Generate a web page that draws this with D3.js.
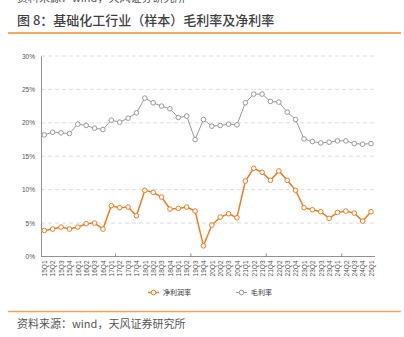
<!DOCTYPE html>
<html><head><meta charset="utf-8">
<script src="https://cdn.jsdelivr.net/npm/d3@7"></script>
<style>
body{margin:0;background:#fff;}
svg{display:block;font-family:"Noto Sans CJK SC","Noto Sans",sans-serif;}
</style></head>
<body><svg id="c" width="404" height="337"></svg>
<script>
const categories = ["15Q1","15Q2","15Q3","15Q4","16Q1","16Q2","16Q3","16Q4","17Q1","17Q2","17Q3","17Q4","18Q1","18Q2","18Q3","18Q4","19Q1","19Q2","19Q3","19Q4","20Q1","20Q2","20Q3","20Q4","21Q1","21Q2","21Q3","21Q4","22Q2","22Q3","22Q4","23Q1","23Q2","23Q3","23Q4","24Q1","24Q2","24Q3","24Q4","25Q1"];
const netMargin = [3.9,4.1,4.4,4.1,4.4,4.9,5.0,4.1,7.6,7.3,7.4,6.1,9.9,9.6,8.9,7.1,7.2,7.4,6.8,1.6,4.7,5.9,6.4,5.8,11.3,13.2,12.6,11.4,12.8,11.4,9.9,7.3,7.0,6.7,5.7,6.6,6.8,6.5,5.3,6.7];
const grossMargin = [18.2,18.6,18.5,18.4,19.8,19.6,19.2,19.0,20.4,20.1,20.7,21.5,23.7,23.0,22.5,22.1,20.8,21.0,17.5,20.5,19.5,19.6,19.8,19.7,23.0,24.3,24.3,23.2,23.1,21.6,20.5,17.6,17.2,17.0,17.1,17.3,17.3,16.9,16.8,16.9];
const yTicks = [0,5,10,15,20,25,30];
const seriesNames = ["净利润率","毛利率"];
const title = "图 8：基础化工行业（样本）毛利率及净利率";
const source = "资料来源：wind，天风证券研究所";

const svg = d3.select("#c");
const orange = "#EE7D22", gray = "#9a9a9a";

// cut-off previous source line at top (as in the reference)
svg.append("text").attr("x",17).attr("y",1.5).attr("font-size",11).attr("fill","#555").text(source);

svg.append("text").attr("x",17).attr("y",25).attr("font-size",13).attr("font-weight",500).attr("fill","#3f3f3f").text(title);
svg.append("line").attr("x1",8).attr("x2",401).attr("y1",33).attr("y2",33).attr("stroke","#F08A2A").attr("stroke-width",1.5);

const L=41, R=375, T=56, B=256.5;
const x = d3.scalePoint().domain(categories).range([44.3,371]);
const step = x.step();
const y = d3.scaleLinear().domain([0,30]).range([B,T]);

// grid
svg.append("g").selectAll("line").data(yTicks.filter(d=>d>0)).join("line")
  .attr("x1",L).attr("x2",R).attr("y1",d=>y(d)).attr("y2",d=>y(d))
  .attr("stroke","#d6d6d6").attr("stroke-width",0.8).attr("stroke-dasharray","4,3");

// y axis
const ya = svg.append("g").attr("transform",`translate(${L},0)`)
  .call(d3.axisLeft(y).tickValues(yTicks).tickFormat(d=>d+"%").tickSize(0).tickPadding(6));
ya.select(".domain").attr("stroke","#777").attr("stroke-width",0.8);
ya.selectAll("text").attr("font-size",6.5).attr("fill","#555").attr("font-family","Liberation Sans, Arial, sans-serif");

// x axis
const xa = svg.append("g").attr("transform",`translate(0,${B})`)
  .call(d3.axisBottom(x).tickSize(0).tickPadding(0));
xa.select(".domain").remove();
svg.append("line").attr("x1",L).attr("x2",R).attr("y1",B).attr("y2",B).attr("stroke","#777").attr("stroke-width",0.8);
xa.selectAll("text").attr("font-size",6.5).attr("fill","#555").attr("font-family","Liberation Sans, Arial, sans-serif")
  .attr("text-anchor","end").attr("transform","rotate(-90)").attr("x",-4).attr("y",0).attr("dy","0.35em");
// tick marks every 9 categories
svg.append("g").selectAll("line").data([9,18,27,36]).join("line")
  .attr("x1",i=>x(categories[i])-step/2).attr("x2",i=>x(categories[i])-step/2)
  .attr("y1",B-3).attr("y2",B).attr("stroke","#777").attr("stroke-width",0.8);

function drawSeries(vals,color,w){
  const line = d3.line().x((d,i)=>x(categories[i])).y(d=>y(d));
  svg.append("path").datum(vals).attr("d",line).attr("fill","none").attr("stroke",color).attr("stroke-width",w);
  svg.append("g").selectAll("circle").data(vals).join("circle")
    .attr("cx",(d,i)=>x(categories[i])).attr("cy",d=>y(d)).attr("r",2.3)
    .attr("fill","#fff").attr("stroke",color).attr("stroke-width",1);
}
drawSeries(grossMargin,gray,1);
drawSeries(netMargin,orange,1.5);

// legend
const leg = [{n:seriesNames[0],c:orange,x:148,w:1.5},{n:seriesNames[1],c:gray,x:236,w:1}];
leg.forEach(l=>{
  const g = svg.append("g");
  g.append("line").attr("x1",l.x).attr("x2",l.x+11).attr("y1",292.5).attr("y2",292.5).attr("stroke",l.c).attr("stroke-width",l.w);
  g.append("circle").attr("cx",l.x+5.5).attr("cy",292.5).attr("r",2.3).attr("fill","#fff").attr("stroke",l.c);
  g.append("text").attr("x",l.x+15).attr("y",295).attr("font-size",7).attr("fill","#333").text(l.n);
});

svg.append("line").attr("x1",8).attr("x2",401).attr("y1",311.5).attr("y2",311.5).attr("stroke","#F4A25A").attr("stroke-width",1.5);
svg.append("text").attr("x",17).attr("y",328).attr("font-size",11).attr("fill","#555").text(source);
</script></body></html>
